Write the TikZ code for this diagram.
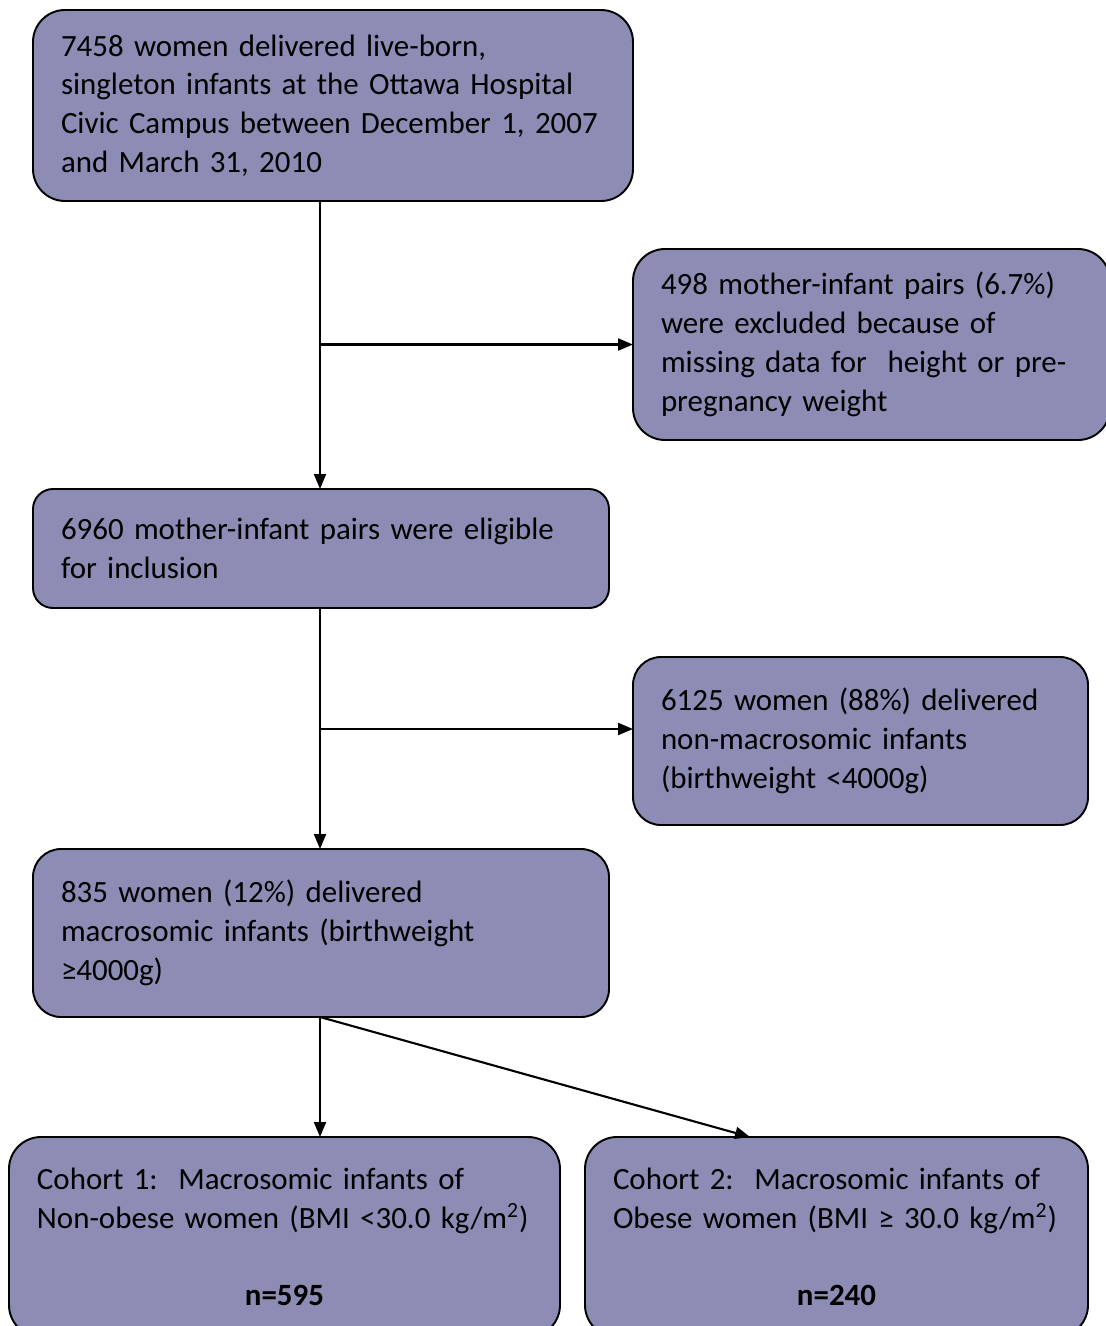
\documentclass[tikz,border=0pt]{standalone}
\usepackage{fontspec}
\setmainfont{Carlito}[WordSpace=0.9]
\usepackage{xcolor}
\usetikzlibrary{arrows.meta,positioning}
\definecolor{boxfill}{RGB}{140,140,180}

\begin{document}
\begin{tikzpicture}[every node/.style={font=\fontsize{17.6pt}{22.1pt}\selectfont},
  flowbox/.style={draw, fill=boxfill, line width=1.1pt, anchor=north west, align=left, inner xsep=0.56cm, inner ysep=0pt, outer sep=0pt},
  flowarrow/.style={-{Triangle[length=0.3cm,width=0.24cm]}, line width=1.2pt}]
	\useasboundingbox (0,0) rectangle (22.1,-26.52);
	
	\node[flowbox, rounded corners=0.64cm, minimum height=3.82cm, text width=10.88cm] (total) at (0.66,-0.2) {7458 women delivered live-born,\\ singleton infants at the Ottawa Hospital\\ Civic Campus between December 1, 2007\\ and March 31, 2010};
	\node[flowbox, rounded corners=0.64cm, minimum height=3.82cm, text width=8.42cm] (excl) at (12.66,-4.98) {498 mother-infant pairs (6.7\%)\\ were excluded because of\\ missing data for\ \ height or pre-\\ pregnancy weight};
	\node[flowbox, rounded corners=0.4cm, minimum height=2.38cm, text width=10.4cm] (eligible) at (0.66,-9.78) {6960 mother-infant pairs were eligible\\ for inclusion};
	\node[flowbox, rounded corners=0.56cm, minimum height=3.36cm, text width=7.98cm] (nonmacro) at (12.66,-13.14) {6125 women (88\%) delivered\\ non-macrosomic infants\\ (birthweight <4000g)};
	\node[flowbox, rounded corners=0.56cm, minimum height=3.36cm, text width=10.4cm] (macro) at (0.66,-16.98) {835 women (12\%) delivered\\ macrosomic infants (birthweight\\ ≥4000g)};
	\node[flowbox, rounded corners=0.64cm, minimum height=4cm, text width=9.9cm] (cohort1) at (0.18,-22.74) {Cohort 1:\ \ Macrosomic infants of\\ Non-obese women (BMI <30.0 kg/m\textsuperscript{2})\\[22.1pt] \makebox[\linewidth]{\textbf{n=595}}};
	\node[flowbox, rounded corners=0.64cm, minimum height=4cm, text width=8.94cm] (cohort2) at (11.7,-22.74) {Cohort 2:\ \ Macrosomic infants of\\ Obese women (BMI ≥ 30.0 kg/m\textsuperscript{2})\\[22.1pt] \makebox[\linewidth]{\textbf{n=240}}};
	
	% trunk line and branch points
	\coordinate (trunk) at (6.4,0);
	\coordinate (split2) at (6.4,-14.58);
	\coordinate (tip2) at (15,0);
	
	\draw[flowarrow] (total.south -| trunk) -- (eligible.north -| trunk);
	\draw[flowarrow] (excl.west -| trunk) -- (excl.west);
	\draw[flowarrow] (eligible.south -| trunk) -- (macro.north -| trunk);
	\draw[flowarrow] (split2) -- (nonmacro.west |- split2);
	\draw[flowarrow] (macro.south -| trunk) -- (cohort1.north -| trunk);
	\draw[flowarrow] (macro.south -| trunk) -- (cohort2.north -| tip2);
\end{tikzpicture}
\end{document}
